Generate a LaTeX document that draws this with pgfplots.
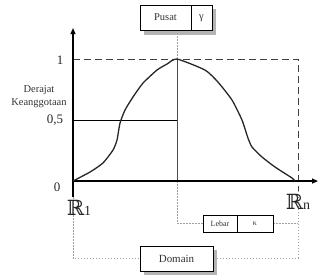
\documentclass[border=0pt]{standalone}
\usepackage{fontspec}
\setmainfont{Liberation Serif}
\newfontfamily\dvs{DejaVu Serif}
\usepackage{pgfplots}
\pgfplotsset{compat=1.18}
\usetikzlibrary{arrows.meta}
\definecolor{thin}{HTML}{8A8A8A}
\definecolor{dotc}{HTML}{A0A0A0}
\definecolor{shadow}{HTML}{B4B4B4}
\begin{document}
\begin{tikzpicture}
\begin{axis}[x=1bp, y=122bp, xmin=-73, xmax=246, ymin=-0.779, ymax=1.484,
  hide axis, clip=false]
\path (axis cs:-73,-0.779) rectangle (axis cs:246,1.484);
% guide lines
\draw[thin, line width=0.5pt] (axis cs:0,0.5) -- (axis cs:104,0.5);
\draw[black!70, line width=0.6pt] (axis cs:104,1) -- (axis cs:104,0);
\draw[dotc, line width=0.5pt, dash pattern=on 1.5bp off 1.5bp] (axis cs:104,1.238) -- (axis cs:104,1);
\draw[dotc, line width=0.5pt, dash pattern=on 1.5bp off 1.5bp] (axis cs:104,0) -- (axis cs:104,-0.344) -- (axis cs:130,-0.344);
\draw[dotc, line width=0.5pt, dash pattern=on 1.5bp off 1.5bp] (axis cs:200,-0.344) -- (axis cs:225,-0.344);
\draw[dotc, line width=0.5pt, dash pattern=on 1.5bp off 1.5bp] (axis cs:225,-0.08) -- (axis cs:225,-0.631) -- (axis cs:140,-0.631);
\draw[dotc, line width=0.5pt, dash pattern=on 1.5bp off 1.5bp] (axis cs:0,-0.131) -- (axis cs:0,-0.631) -- (axis cs:67,-0.631);
% dashed frame
\draw[black!75, line width=1pt, dash pattern=on 7bp off 4bp] (axis cs:0,1) -- (axis cs:225,1) -- (axis cs:225,-0.08);
% axes
\draw[line width=1.2pt, -{Triangle[length=6bp,width=5bp]}] (axis cs:0,-0.131) -- (axis cs:0,1.254);
\draw[line width=1.2pt, -{Triangle[length=6bp,width=5bp]}] (axis cs:0,0) -- (axis cs:245,0);
% curve
\addplot[black!85, line width=1.3pt, line join=round, smooth, tension=0.35] coordinates {
(0,0) (17,0.074) (30,0.148) (40,0.254) (44,0.336) (47,0.475) (52,0.582)
(60,0.689) (70,0.803) (84,0.910) (94,0.959) (104,1)
(132,0.910) (145,0.811) (159,0.664) (169,0.5) (175,0.352) (179,0.279)
(189,0.197) (202,0.115) (219,0.025) (222,0)
};
% Pusat box
\fill[shadow] (axis cs:71,1.410) rectangle (axis cs:143,1.197);
\draw[thin, fill=white, line width=0.5pt] (axis cs:67,1.443) rectangle (axis cs:139,1.238);
\draw[thin, line width=0.5pt] (axis cs:118,1.443) -- (axis cs:118,1.238);
\node[font=\fontsize{10.5}{12}\selectfont, text=black!80] at (axis cs:92.5,1.340) {Pusat};
\node[font=\fontsize{10.5}{12}\selectfont, text=black!80] at (axis cs:128.5,1.335) {γ};
% Lebar box
\draw[thin, fill=white, line width=0.5pt] (axis cs:130,-0.279) rectangle (axis cs:200,-0.418);
\draw[thin, line width=0.5pt] (axis cs:164,-0.279) -- (axis cs:164,-0.418);
\node[font=\fontsize{8}{9}\selectfont, text=black!80] at (axis cs:147,-0.348) {Lebar};
\node[font=\fontsize{8}{9}\selectfont, text=black!80] at (axis cs:182,-0.350) {κ};
% Domain box
\fill[shadow] (axis cs:71,-0.566) rectangle (axis cs:144,-0.770);
\draw[thin, fill=white, line width=0.5pt] (axis cs:67,-0.533) rectangle (axis cs:140,-0.738);
\node[font=\fontsize{11}{12}\selectfont, text=black!80] at (axis cs:103.5,-0.635) {Domain};
% labels
\node[font=\fontsize{13}{14}\selectfont, text=black!85] at (axis cs:-13,0.992) {1};
\node[font=\fontsize{13}{14}\selectfont, text=black!85] at (axis cs:-18,0.5) {0,5};
\node[font=\fontsize{13}{14}\selectfont, text=black!85] at (axis cs:-16,-0.049) {0};
\node[font=\fontsize{10.5}{13}\selectfont, text=black!80, align=center] at (axis cs:-34,0.693) {Derajat\\Keanggotaan};
\node[text=black!85] at (axis cs:6,-0.221) {{\dvs\fontsize{21}{22}\selectfont ℝ}{\fontsize{14}{14}\selectfont 1}};
\node[text=black!85] at (axis cs:225,-0.172) {{\dvs\fontsize{21}{22}\selectfont ℝ}{\fontsize{14}{14}\selectfont n}};
\end{axis}
\end{tikzpicture}
\end{document}
